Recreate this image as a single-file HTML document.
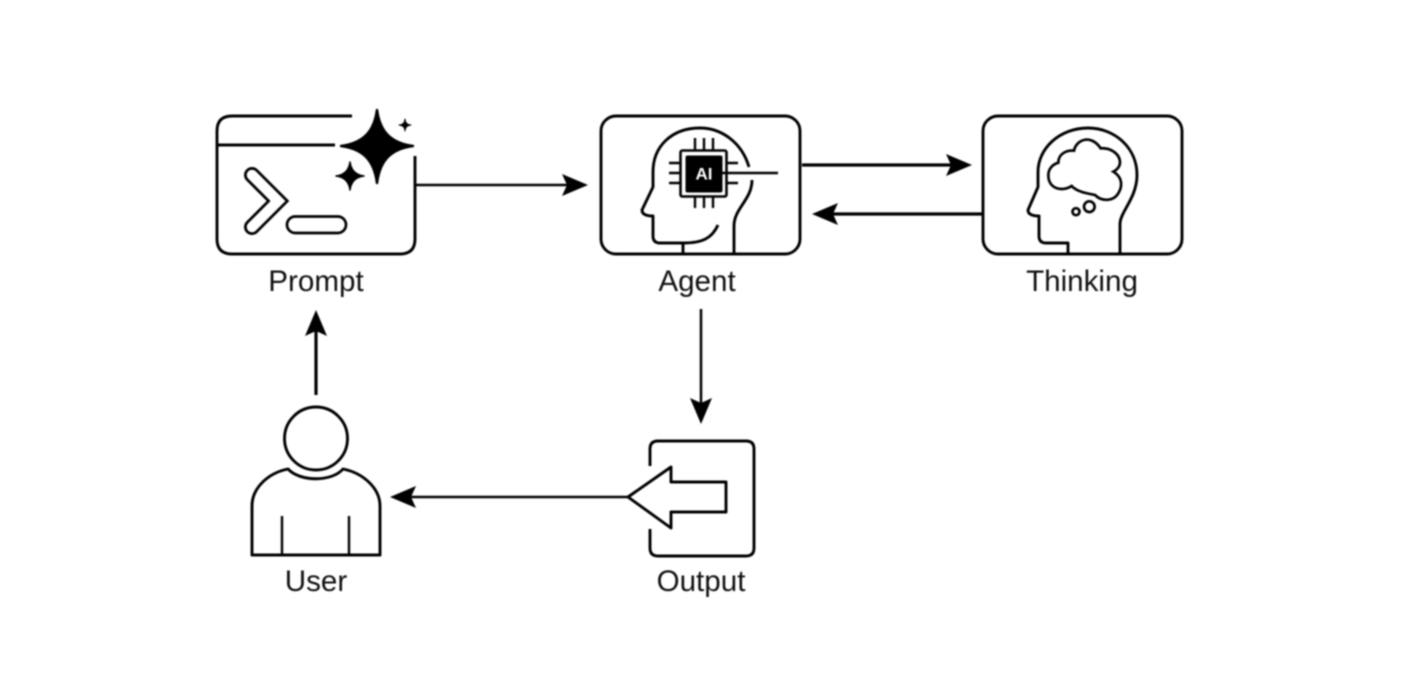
<!DOCTYPE html>
<html><head><meta charset="utf-8"><style>
html,body{margin:0;padding:0;background:#fff;width:1426px;height:690px;overflow:hidden}
svg{display:block;filter:blur(0.8px)}
text{font-family:"Liberation Sans",sans-serif;font-size:29.6px;fill:#111;text-anchor:middle}
.l{fill:none;stroke:#000;stroke-width:2.900;stroke-linejoin:round;stroke-linecap:butt}
.t{fill:none;stroke:#000;stroke-width:2.400}
</style></head><body>
<svg width="1426" height="690" viewBox="0 0 1426 690" xmlns="http://www.w3.org/2000/svg">
<!-- Prompt -->
<path class="l" d="M352 116H232Q217 116 217 131V239Q217 254 232 254H400Q415 254 415 239V156"/>
<path class="l" d="M217 145H335"/>
<path fill="#000" stroke="#000" stroke-width="2.500" stroke-linejoin="round" d="M377 110C380 132 391 143 413 146C391 149 380 160 377 183C374 160 363 149 341 146C363 143 374 132 377 110Z"/>
<path fill="#000" stroke="#000" stroke-width="1.500" stroke-linejoin="round" d="M350 162C351 170 356 175 364 176C356 177 351 182 350 190C349 182 344 177 336 176C344 175 349 170 350 162Z"/>
<path fill="#000" stroke="#000" stroke-width="1" stroke-linejoin="round" d="M405 119C405.500 123 407 124.500 411 125C407 125.500 405.500 127 405 131C404.500 127 403 125.500 399 125C403 124.500 404.500 123 405 119Z"/>
<polyline points="252,175 278,201 252,227" fill="none" stroke="#000" stroke-width="16" stroke-linecap="round" stroke-linejoin="miter"/>
<polyline points="252,175 278,201 252,227" fill="none" stroke="#fff" stroke-width="10.500" stroke-linecap="round" stroke-linejoin="miter"/>
<rect x="287" y="216.500" width="59" height="16.500" rx="8.200" fill="#fff" stroke="#000" stroke-width="2.700"/>
<text x="316" y="291">Prompt</text>
<!-- Agent -->
<rect class="l" x="601" y="116" width="199" height="138" rx="15"/>
<path class="l" d="M734 254V226C734 208 752 200 752 180M749 167C742 143 722 128 700 128C672 128 653 146 653 172V187L642 210Q642 216 653 216V236Q653 243 660 243H683V254M683 243C703 243 712 238 718 225"/>
<rect x="680.500" y="150.500" width="46" height="46" rx="2" fill="#fff" stroke="#000" stroke-width="2.600"/>
<rect x="685.500" y="155.500" width="37" height="37" rx="2" fill="#000"/>
<path class="t" d="M695 138V150M704 138V150M713 138V150M695 197V208M704 197V208M713 197V208M669 163H680M669 173H680M669 183H680M727 163H738M727 183H738M722 173H778"/>
<text x="704" y="179.500" style="font-size:17px;font-weight:bold;fill:#fff">AI</text>
<text x="697" y="291">Agent</text>
<!-- Thinking -->
<rect class="l" x="983" y="116" width="199" height="138" rx="15"/>
<path class="l" d="M1120 254V224C1120 212 1137 198 1137 175C1137 148 1115 128 1088 128C1060 128 1038 148 1038 172V187L1028 210Q1028 216 1039 216V236Q1039 243 1046 243H1068V254"/>
<g transform="translate(970 100) scale(.33333)" fill="none" stroke="#000" stroke-width="8">
<path d="M235 225C235 205 250 192 265 188C265 162 288 150 312 152C318 120 362 100 392 145C420 143 450 160 450 188C450 200 440 210 430 215C455 230 460 255 445 280C430 305 395 305 375 285C350 280 320 275 305 258C280 275 235 270 235 225Z"/>
<circle cx="358" cy="320" r="16"/>
<circle cx="318" cy="335" r="10.500"/>
</g>
<text x="1082" y="291">Thinking</text>
<!-- User -->
<circle class="l" cx="316" cy="438.500" r="31.500"/>
<path class="l" d="M252 555V506C252 488 268 473 288 469C300 482 332 482 343 469C363 473 380 488 380 506V555Z"/>
<path class="t" d="M282 516V555M349 516V555"/>
<text x="316" y="591">User</text>
<!-- Output -->
<path class="l" d="M650 466V449Q650 441 658 441H746Q754 441 754 449V548Q754 556 746 556H658Q650 556 650 548V529"/>
<path class="l" d="M628 497L671 467V482H726V512H671V528Z"/>
<text x="701" y="591">Output</text>
<!-- Arrows -->
<path d="M416 185H570" stroke="#000" stroke-width="2.500"/>
<path d="M588 185L562 174L567 185L562 196Z" fill="#000"/>
<path d="M802 165H955" stroke="#000" stroke-width="3.200"/>
<path d="M972 165L946 154L951 165L946 176Z" fill="#000"/>
<path d="M983 214H830" stroke="#000" stroke-width="3.200"/>
<path d="M812 214L838 203L833 214L838 225Z" fill="#000"/>
<path d="M701 309V405" stroke="#000" stroke-width="2.500"/>
<path d="M701 424L690 398L701 403L712 398Z" fill="#000"/>
<path d="M316 395V330" stroke="#000" stroke-width="3.200"/>
<path d="M316 310L305 336L316 331L327 336Z" fill="#000"/>
<path d="M628 497H408" stroke="#000" stroke-width="2.500"/>
<path d="M390 497L416 486L411 497L416 508Z" fill="#000"/>
</svg>
</body></html>
